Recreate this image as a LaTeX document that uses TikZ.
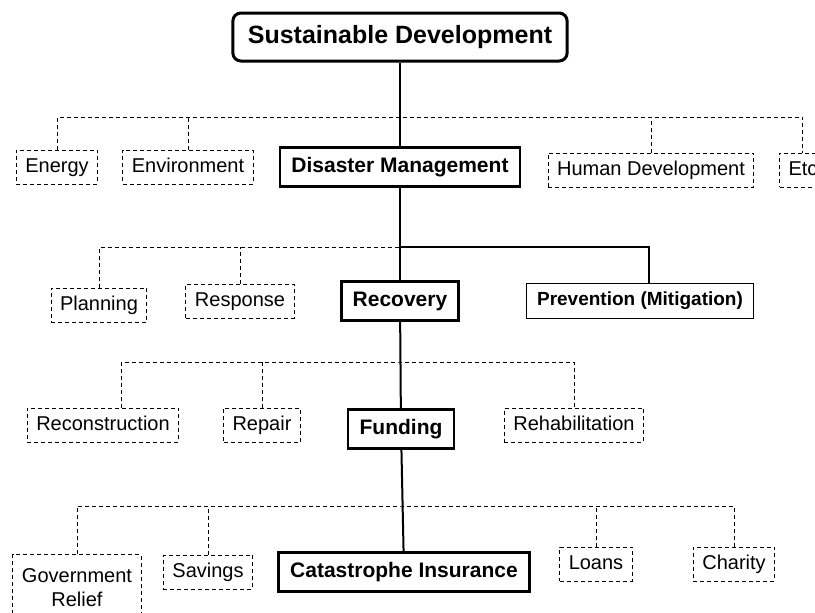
\documentclass[tikz,border=0pt]{standalone}
\usepackage{fontspec}
\setmainfont{Liberation Sans}
\usetikzlibrary{calc}

\begin{document}
\begin{tikzpicture}[x=1pt, y=-1pt, font=\fontsize{20}{24}\selectfont]
  \tikzstyle{subbox}=[draw, dash pattern=on 4pt off 3pt, line width=1pt, inner xsep=9pt, inner ysep=7.5pt, align=center]
  \tikzstyle{sub}=[subbox, text height=14.5pt, text depth=4.5pt]
  \tikzstyle{main}=[draw, line width=2.6pt, inner xsep=11.5pt, inner ysep=9.5pt, text height=15pt, text depth=4.5pt, font=\fontsize{21}{25}\selectfont\bfseries]
  \tikzstyle{root}=[main, line width=3pt, rounded corners=8pt, inner xsep=15pt, inner ysep=12pt, text height=18.5pt, text depth=5.5pt, font=\fontsize{25}{30}\selectfont\bfseries]
  \tikzstyle{side}=[main, line width=1pt, inner xsep=11pt, inner ysep=8.5pt, text height=14pt, text depth=4.5pt, font=\fontsize{19}{23}\selectfont\bfseries]
  \tikzstyle{spine}=[line width=2pt]
  \tikzstyle{bus}=[dash pattern=on 4pt off 3pt, line width=1pt]
  \tikzstyle{branch}=[line width=1.3pt]

  \useasboundingbox (0,0) rectangle (815,613);
  \clip (0,0) rectangle (815,613);

  % ------- nodes -------
  \node[root] (sd) at (400,37) {Sustainable Development};

  \node[sub]  (energy) at (57,167)  {Energy};
  \node[sub]  (env)    at (188,167) {Environment};
  \node[main] (dm)     at (400,167) {Disaster Management};
  \node[sub]  (human)  at (651,170) {Human Development};
  \node[sub, anchor=west] (etc) at (779,170) {Etc};

  \node[sub]  (plan) at (99,305)  {Planning};
  \node[sub]  (resp) at (240,301) {Response};
  \node[main] (rec)  at (400,301) {Recovery};
  \node[side] (prev) at (640,301) {Prevention (Mitigation)};

  \node[sub]  (recon)  at (103,425) {Reconstruction};
  \node[sub]  (repair) at (262,425) {Repair};
  \node[main] (fund)   at (401,429) {Funding};
  \node[sub]  (rehab)  at (574,425) {Rehabilitation};

  \node[subbox, anchor=north, minimum height=66pt] (gov) at (77,554) {Government\\Relief};
  \node[sub]  (sav)     at (208,572) {Savings};
  \node[main] (cat)     at (404,572) {Catastrophe Insurance};
  \node[sub]  (loans)   at (596,564) {Loans};
  \node[sub]  (charity) at (734,564) {Charity};

  % junctions on the spine
  \coordinate (j1) at (400,117);
  \coordinate (j2) at (400,247);
  \coordinate (j3) at (400,362);
  \coordinate (j4) at (402,506);

  % ------- side branches -------
  \draw[bus] (energy.north) |- (j1) -| (etc.north);
  \draw[bus] (env.north) -- (env.north |- j1);
  \draw[bus] (human.north) -- (human.north |- j1);

  \draw[bus] (plan.north) |- (j2);
  \draw[bus] (resp.north) -- (resp.north |- j2);
  \draw[branch] (j2) -| ([xshift=9pt]prev.north);

  \draw[bus] ([xshift=18pt]recon.north) |- (j3) -| (rehab.north);
  \draw[bus] (repair.north) -- (repair.north |- j3);

  \draw[bus] (gov.north) |- (j4) -| (charity.north);
  \draw[bus] (sav.north) -- (sav.north |- j4);
  \draw[bus] (loans.north) -- (loans.north |- j4);

  % ------- spine -------
  \draw[spine] (sd) -- (dm);
  \draw[spine] (dm) -- (rec);
  \draw[spine] (rec) -- (fund);
  \draw[spine] (fund) -- (cat);
\end{tikzpicture}
\end{document}
